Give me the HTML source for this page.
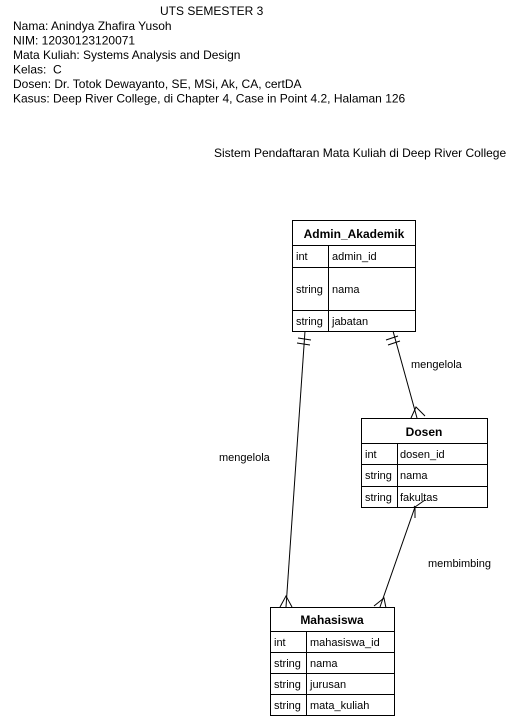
<!DOCTYPE html>
<html><head><meta charset="utf-8"><style>
html,body{margin:0;padding:0;background:#fff;}
svg{display:block;font-family:"Liberation Sans",Arial,sans-serif;}
</style></head><body>
<svg width="520" height="716" viewBox="0 0 520 716" xmlns="http://www.w3.org/2000/svg">
<g font-size="12" fill="#000">
<text x="160" y="15">UTS SEMESTER 3</text>
<text x="13" y="30">Nama: Anindya Zhafira Yusoh</text>
<text x="13" y="44.5">NIM: 12030123120071</text>
<text x="13" y="59">Mata Kuliah: Systems Analysis and Design</text>
<text x="13" y="73.5">Kelas:&#160; C</text>
<text x="13" y="88">Dosen: Dr. Totok Dewayanto, SE, MSi, Ak, CA, certDA</text>
<text x="13" y="102.5">Kasus: Deep River College, di Chapter 4, Case in Point 4.2, Halaman 126</text>
<text x="214" y="157">Sistem Pendaftaran Mata Kuliah di Deep River College</text>
</g>
<g fill="none" stroke="#000" stroke-width="1">
<rect x="292.5" y="220.5" width="123" height="111"/>
<path d="M292.5 245.5H415.5M292.5 267.5H415.5M292.5 310.5H415.5M328.5 245.5V331.5"/>
<rect x="361.5" y="418.5" width="126" height="89"/>
<path d="M361.5 443.5H487.5M361.5 464.5H487.5M361.5 486.5H487.5M397.5 443.5V507.5"/>
<rect x="270.5" y="607.5" width="124" height="108"/>
<path d="M270.5 631.5H394.5M270.5 652.5H394.5M270.5 673.5H394.5M270.5 694.5H394.5M306.5 631.5V715.5"/>
<path d="M305 331 L286 607"/>
<path d="M298 338L311 340M297 343L310 345"/>
<path d="M280 607L286 596L292 607"/>
<path d="M393 331 L417 418"/>
<path d="M386 340L398 336M388 345L400 341"/>
<path d="M411 418L416 407L425 416"/>
<path d="M415 507 L380 607"/>
<path d="M414 506L415 507M415 518L415 507L425 500"/>
<path d="M374 606L384 598L386 608"/>
</g>
<g font-size="11" fill="#000">
<text x="219" y="461">mengelola</text>
<text x="411" y="368">mengelola</text>
<text x="428" y="567">membimbing</text>
</g>
<g font-size="12" fill="#000">
<text x="354" y="238" text-anchor="middle" font-weight="bold">Admin_Akademik</text>
<text x="296" y="260" font-size="11">int</text><text x="332" y="260" font-size="11">admin_id</text>
<text x="296" y="293" font-size="11">string</text><text x="332" y="293" font-size="11">nama</text>
<text x="296" y="325" font-size="11">string</text><text x="332" y="325" font-size="11">jabatan</text>
<text x="424" y="436" text-anchor="middle" font-weight="bold">Dosen</text>
<text x="365" y="458" font-size="11">int</text><text x="400" y="458" font-size="11">dosen_id</text>
<text x="365" y="479" font-size="11">string</text><text x="400" y="479" font-size="11">nama</text>
<text x="365" y="501" font-size="11">string</text><text x="400" y="501" font-size="11">fakultas</text>
<text x="332" y="624" text-anchor="middle" font-weight="bold">Mahasiswa</text>
<text x="274" y="646" font-size="11">int</text><text x="310" y="646" font-size="11">mahasiswa_id</text>
<text x="274" y="667" font-size="11">string</text><text x="310" y="667" font-size="11">nama</text>
<text x="274" y="688" font-size="11">string</text><text x="310" y="688" font-size="11">jurusan</text>
<text x="274" y="709" font-size="11">string</text><text x="310" y="709" font-size="11">mata_kuliah</text>
</g>
</svg>
</body></html>
